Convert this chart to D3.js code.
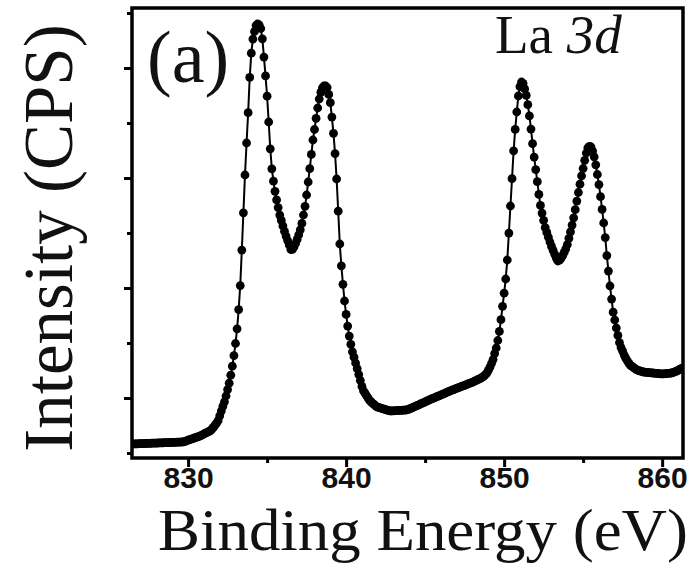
<!DOCTYPE html>
<html>
<head>
<meta charset="utf-8">
<script src="https://cdn.jsdelivr.net/npm/d3@7/dist/d3.min.js"></script>
<style>
  body { margin: 0; background: #fff; }
  .tick-label { font-family: "Liberation Sans", Arial, sans-serif; font-weight: bold; font-size: 30px; fill: #111; }
  .title { font-family: "Liberation Serif", "Times New Roman", serif; fill: #111; }
</style>
</head>
<body>
<div id="chart"></div>
<script>
/* global d3 */

// binding energy grid of the scan (eV)
var energyStart = 826.5;
var energyStep = 0.1;

// La 3d intensity, arbitrary counts, one value per energy step
var intensity = [
  64.0,64.1,64.1,64.2,64.3,64.3,64.4,64.4,64.5,64.6,64.6,64.7,64.8,64.8,64.9,64.9,65.0,65.1,65.1,65.2,
  65.3,65.3,65.4,65.4,65.5,65.6,65.6,65.7,65.8,65.8,65.9,66.0,
  66.1,66.7,67.2,67.8,68.3,68.9,69.4,70.0,70.6,71.2,71.7,72.4,73.2,74.0,74.8,75.6,76.3,77.1,
  78.8,80.6,82.8,84.9,87.3,92.1,96.9,101.7,106.2,112,118.4,124.8,132.8,141.8,152.3,164.5,179.2,198.4,
  222.4,257.9,295.2,333,365,395.3,430.6,454.8,468.9,476.5,482.5,484,483,479.5,
  469.2,450.9,432.1,411.8,386,359.2,339.2,326.8,316.7,308.1,300.4,292.9,287.6,282.1,276.7,271.9,267.4,263.1,258.5,
  258.6,261,264.5,268.6,273.1,278.2,284.6,293,301.7,313,326,339.3,353.6,368,378.5,389.7,400,409,415.7,420.2,
  422,422,420.5,413.6,
  405.3,390.9,374.7,354.4,329,296.8,264,242.2,223.7,207,193.6,181.9,171.9,163.7,156.2,150.8,145,139.3,133.4,127.5,
  121.6,117.2,114.7,112.2,109.7,107.3,105.8,104.4,103.1,101.7,100.8,100.3,99.8,99.3,98.8,98.3,97.9,97.4,97.0,
  97.1,97.2,97.3,97.4,97.5,97.6,97.7,97.8,97.9,98.0,98.4,99.0,99.7,100.4,101.1,101.8,102.5,103.2,104.0,104.7,
  105.4,106.1,106.9,107.6,108.3,109.0,109.6,110.3,111.0,111.7,112.4,113.0,113.7,114.4,115.1,115.8,116.5,117.2,
  117.8,118.4,119.0,119.6,120.3,120.9,121.5,122.1,122.7,123.3,124.0,124.6,125.2,125.8,
  126.5,127.3,128.1,128.9,129.7,130.5,131.6,133.2,134.8,137.6,140.8,144.5,148.4,154.4,160,167.5,176.6,188.3,
  201.7,214.8,229,248,274.9,302,329.3,357.2,378.6,396,412,421.4,426,
  424.6,419.1,412.6,403.3,392.1,378.9,364.3,350.9,338.4,326.3,313.6,302.6,294.9,287.7,280.4,275.6,270.8,266,
  261.6,257.6,253.7,249.9,247,
  247.8,249.7,252.3,255.6,259.1,263.4,269.7,276.1,282.9,290.2,298.3,306.9,315.5,323.8,332.2,339.5,347.7,355,
  360.1,361.6,361,357,351.2,343.2,333.5,323.4,311.3,298.6,285,270.4,252.4,236.9,222,208.9,195.8,188,180,172.6,
  165.4,160.4,156.8,152.9,149.7,147.2,144.6,142.6,141.5,140.4,139.2,138.1,137.5,137,136.5,136,135.8,135.7,135.5,
  135.4,135.2,135,134.9,134.7,134.6,134.4,134.2,134.1,134.1,134.3,134.5,134.6,134.8,135,135.5,136.1,136.8,137.5,
  138.5,139.4,140
];

// axis ticks
var xMajorTicks = [830, 840, 850, 860];
var xMinorTicks = [835, 845, 855];
var yMajorTicks = [110, 220, 330, 440];
var yMinorTicks = [55, 165, 275, 385, 495];

var width = 694, height = 566;
var margin = { top: 8, right: 11, bottom: 108, left: 132 };
var plotW = width - margin.left - margin.right;
var plotH = height - margin.top - margin.bottom;

var x = d3.scaleLinear().domain([826.45, 861.32]).range([0, plotW]);
var y = d3.scaleLinear().domain([50, 500]).range([plotH, 0]);

var points = intensity.map(function (v, i) {
  return { e: energyStart + i * energyStep, v: v };
});

var svg = d3.select('#chart').append('svg')
    .attr('width', width)
    .attr('height', height)
  .append('g')
    .attr('transform', 'translate(' + margin.left + ',' + margin.top + ')');

svg.append('clipPath').attr('id', 'plot-clip')
  .append('rect').attr('width', plotW).attr('height', plotH);

// x axis: major ticks with labels, minor ticks without
function styleAxis(g, w) {
  g.select('.domain').remove();
  g.selectAll('.tick line').attr('stroke', '#000').attr('stroke-width', w);
}

svg.append('g')
    .attr('transform', 'translate(0,' + plotH + ')')
    .call(d3.axisBottom(x).tickValues(xMajorTicks).tickSize(9).tickPadding(0).tickFormat(d3.format('d')))
    .call(styleAxis, 3)
    .selectAll('text')
      .attr('class', 'tick-label')
      .attr('font-size', null).attr('font-family', null).attr('fill', null);

svg.append('g')
    .attr('transform', 'translate(0,' + plotH + ')')
    .call(d3.axisBottom(x).tickValues(xMinorTicks).tickSize(5).tickFormat(''))
    .call(styleAxis, 3);

// y axis: ticks only, no labels
svg.append('g')
    .call(d3.axisLeft(y).tickValues(yMajorTicks).tickSize(8).tickFormat(''))
    .call(styleAxis, 3);

svg.append('g')
    .call(d3.axisLeft(y).tickValues(yMinorTicks).tickSize(5).tickFormat(''))
    .call(styleAxis, 3);

// frame
svg.append('rect')
    .attr('width', plotW)
    .attr('height', plotH)
    .attr('fill', 'none')
    .attr('stroke', '#000')
    .attr('stroke-width', 3.5);

// data: thin line with dots
var plot = svg.append('g').attr('clip-path', 'url(#plot-clip)');

var line = d3.line()
    .x(function (d) { return x(d.e); })
    .y(function (d) { return y(d.v); });

plot.append('path')
    .datum(points)
    .attr('d', line)
    .attr('fill', 'none')
    .attr('stroke', '#000')
    .attr('stroke-width', 2);

plot.selectAll('circle')
    .data(points)
  .enter().append('circle')
    .attr('cx', function (d) { return x(d.e); })
    .attr('cy', function (d) { return y(d.v); })
    .attr('r', 4.4)
    .attr('fill', '#000');

// titles and annotations
svg.append('text')
    .attr('class', 'title')
    .attr('x', 158 - margin.left)
    .attr('y', 550 - margin.top)
    .attr('font-size', 60)
    .attr('textLength', 530)
    .attr('lengthAdjust', 'spacingAndGlyphs')
    .text('Binding Energy (eV)');

svg.append('text')
    .attr('class', 'title')
    .attr('transform', 'translate(' + (72 - margin.left) + ',' + (238 - margin.top) + ') rotate(-90)')
    .attr('text-anchor', 'middle')
    .attr('font-size', 69)
    .text('Intensity (CPS)');

svg.append('text')
    .attr('class', 'title')
    .attr('x', 147 - margin.left)
    .attr('y', 82 - margin.top)
    .attr('font-size', 74)
    .text('(a)');

var la = svg.append('text')
    .attr('class', 'title')
    .attr('x', 495 - margin.left)
    .attr('y', 53 - margin.top)
    .attr('font-size', 55);
la.append('tspan').text('La ');
la.append('tspan').attr('font-style', 'italic').text('3d');
</script>
</body>
</html>
